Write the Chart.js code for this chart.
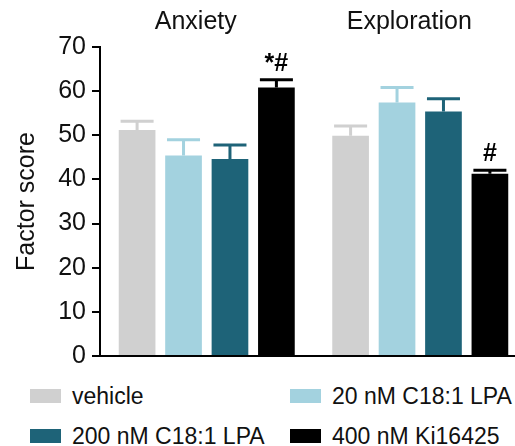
<!DOCTYPE html>
<html>
<head>
<meta charset="utf-8">
<script src="https://cdn.jsdelivr.net/npm/chart.js@4.4.1/dist/chart.umd.min.js"></script>
<style>
  html, body { margin: 0; padding: 0; background: #fff; }
  body { width: 515px; height: 446px; position: relative; overflow: hidden;
         font-family: "Liberation Sans", Arial, sans-serif; }
  #wrap { position: absolute; left: 0; top: 0; width: 527px; height: 377px; }
  .leg { position: absolute; display: flex; align-items: center; font-size: 23px; color: #111; white-space: nowrap; }
  .leg .box { width: 31px; height: 14px; margin-right: 11px; }
</style>
</head>
<body>
<div id="wrap"><canvas id="chart"></canvas></div>
<div id="legend"></div>
<script>
// Datos
const groups = ['Anxiety', 'Exploration'];
const seriesNames = ['vehicle', '20 nM C18:1 LPA', '200 nM C18:1 LPA', '400 nM Ki16425'];
const vehicle  = [51.2, 49.9];
const lpa20    = [45.4, 57.4];
const lpa200   = [44.6, 55.4];
const ki16425  = [60.8, 41.3];
const vehicleErr = [2.0, 2.2];
const lpa20Err   = [3.6, 3.4];
const lpa200Err  = [3.2, 2.9];
const kiErr      = [1.8, 0.8];
const kiMarks    = ['*#', '#'];
const yTicks     = [0, 10, 20, 30, 40, 50, 60, 70];

const colors = ['#d0d0d0', '#a3d2df', '#1e6378', '#000000'];
const values = [vehicle, lpa20, lpa200, ki16425];
const errors = [vehicleErr, lpa20Err, lpa200Err, kiErr];
const marks  = [null, null, null, kiMarks];
const font = '"Liberation Sans", Arial, sans-serif';

// ── Barras de error, marcas y títulos de grupo ──
const errorBars = {
    id: 'errorBars',
    afterDatasetsDraw(chart) {
        const { ctx, scales: { x, y } } = chart;
        chart.data.datasets.forEach((ds, di) => {
            const meta = chart.getDatasetMeta(di);
            meta.data.forEach((bar, i) => {
                const top = y.getPixelForValue(ds.data[i] + errors[di][i]);
                const half = bar.width * 0.45;
                ctx.save();
                ctx.strokeStyle = colors[di];
                ctx.lineWidth = 3;
                ctx.beginPath();
                ctx.moveTo(bar.x, bar.y);
                ctx.lineTo(bar.x, top);
                ctx.moveTo(bar.x - half, top);
                ctx.lineTo(bar.x + half, top);
                ctx.stroke();
                if (marks[di] && marks[di][i]) {
                    ctx.fillStyle = '#000';
                    ctx.font = '600 25px ' + font;
                    ctx.textAlign = 'center';
                    ctx.textBaseline = 'alphabetic';
                    ctx.fillText(marks[di][i], bar.x, top - 9);
                }
                ctx.restore();
            });
        });
        // títulos de grupo, algo a la izquierda del centro como en la figura
        ctx.save();
        ctx.fillStyle = '#111';
        ctx.font = '25px ' + font;
        ctx.textAlign = 'center';
        ctx.textBaseline = 'middle';
        groups.forEach((g, i) => ctx.fillText(g, x.getPixelForValue(i) - 11, 22));
        ctx.restore();
    }
};

new Chart(document.getElementById('chart'), {
    type: 'bar',
    data: {
        labels: groups,
        datasets: values.map((v, i) => ({
            label: seriesNames[i],
            data: v,
            backgroundColor: colors[i],
            borderWidth: 0,
            barPercentage: 0.79,
            categoryPercentage: 0.87,
        }))
    },
    options: {
        responsive: true,
        maintainAspectRatio: false,
        animation: false,
        layout: { padding: 0 },
        plugins: { legend: { display: false }, tooltip: { enabled: false } },
        scales: {
            x: {
                position: 'top',
                grid: { display: false, drawTicks: false },
                border: { display: false },
                ticks: { display: false },
                afterFit: s => { s.height = 47; }
            },
            y: {
                min: 0,
                max: 70,
                afterBuildTicks: s => { s.ticks = yTicks.map(v => ({ value: v })); },
                afterFit: s => { s.width = 100; },
                border: { display: true, color: '#000', width: 2 },
                grid: {
                    drawOnChartArea: true,
                    color: c => c.tick && c.tick.value === 0 ? '#000' : 'rgba(0,0,0,0)',
                    lineWidth: 2,
                    tickColor: '#000',
                    tickLength: 8,
                },
                ticks: { color: '#111', font: { family: font, size: 25 }, padding: 6 },
                title: {
                    display: true,
                    text: 'Factor score',
                    color: '#111',
                    font: { family: font, size: 25 },
                    padding: { top: 12, bottom: 0 }
                }
            }
        }
    },
    plugins: [errorBars]
});

// Leyenda
const legendPos = [[30, 396], [290, 396], [30, 436], [290, 436]];
document.getElementById('legend').innerHTML = seriesNames.map((name, i) => `
    <div class="leg" style="left:${legendPos[i][0]}px; top:${legendPos[i][1] - 14}px; height:28px">
        <span class="box" style="background:${colors[i]}"></span><span>${name}</span>
    </div>`).join('');
</script>
</body>
</html>
